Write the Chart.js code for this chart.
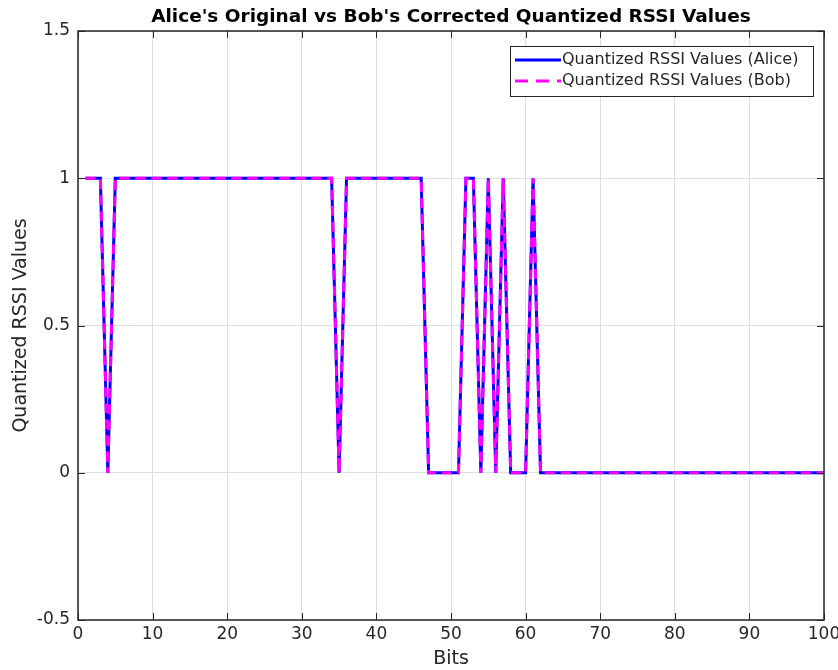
<!DOCTYPE html>
<html>
<head>
<meta charset="utf-8">
<script src="https://cdn.jsdelivr.net/npm/chart.js@4"></script>
<style>
  body { margin: 0; background: #fff; }
  #wrap { width: 838px; height: 670px; }
</style>
</head>
<body>
<div id="wrap"><canvas id="myChart"></canvas></div>
<script>
const ctx = document.getElementById("myChart");

const bits = [1, 2, 3, 4, 5, 6, 7, 8, 9, 10,
    11, 12, 13, 14, 15, 16, 17, 18, 19, 20,
    21, 22, 23, 24, 25, 26, 27, 28, 29, 30,
    31, 32, 33, 34, 35, 36, 37, 38, 39, 40,
    41, 42, 43, 44, 45, 46, 47, 48, 49, 50,
    51, 52, 53, 54, 55, 56, 57, 58, 59, 60,
    61, 62, 63, 64, 65, 66, 67, 68, 69, 70,
    71, 72, 73, 74, 75, 76, 77, 78, 79, 80,
    81, 82, 83, 84, 85, 86, 87, 88, 89, 90,
    91, 92, 93, 94, 95, 96, 97, 98, 99, 100];

const aliceValues = [1, 1, 1, 0, 1, 1, 1, 1, 1, 1,
    1, 1, 1, 1, 1, 1, 1, 1, 1, 1,
    1, 1, 1, 1, 1, 1, 1, 1, 1, 1,
    1, 1, 1, 1, 0, 1, 1, 1, 1, 1,
    1, 1, 1, 1, 1, 1, 0, 0, 0, 0,
    0, 1, 1, 0, 1, 0, 1, 0, 0, 0,
    1, 0, 0, 0, 0, 0, 0, 0, 0, 0,
    0, 0, 0, 0, 0, 0, 0, 0, 0, 0,
    0, 0, 0, 0, 0, 0, 0, 0, 0, 0,
    0, 0, 0, 0, 0, 0, 0, 0, 0, 0];

const bobValues = [1, 1, 1, 0, 1, 1, 1, 1, 1, 1,
    1, 1, 1, 1, 1, 1, 1, 1, 1, 1,
    1, 1, 1, 1, 1, 1, 1, 1, 1, 1,
    1, 1, 1, 1, 0, 1, 1, 1, 1, 1,
    1, 1, 1, 1, 1, 1, 0, 0, 0, 0,
    0, 1, 1, 0, 1, 0, 1, 0, 0, 0,
    1, 0, 0, 0, 0, 0, 0, 0, 0, 0,
    0, 0, 0, 0, 0, 0, 0, 0, 0, 0,
    0, 0, 0, 0, 0, 0, 0, 0, 0, 0,
    0, 0, 0, 0, 0, 0, 0, 0, 0, 0];

const xTicks = [0, 10, 20, 30, 40, 50, 60, 70, 80, 90, 100];
const yTicks = [-0.5, 0, 0.5, 1, 1.5];

const titleText = "Alice's Original vs Bob's Corrected Quantized RSSI Values";
const aliceLabel = 'Quantized RSSI Values (Alice)';
const bobLabel = 'Quantized RSSI Values (Bob)';

const FONT = "'DejaVu Sans', sans-serif";
const blue = '#0000ff';
const magenta = '#ff00ff';
const dash = [10, 6];

const toPoints = (ys) => bits.map((b, i) => ({x: b, y: ys[i]}));

/*box round the axes, inward ticks, title over the axes and the boxed legend, matlab style*/
const matlabBox = {
    id: 'matlabBox',
    afterDatasetsDraw(chart) {
        const c = chart.ctx;
        const a = chart.chartArea;
        const xs = chart.scales.x;
        const ys = chart.scales.y;
        c.save();
        c.strokeStyle = '#262626';
        c.lineWidth = 1;
        c.beginPath();
        xTicks.forEach(t => {
            const px = Math.round(xs.getPixelForValue(t)) + 0.5;
            c.moveTo(px, a.bottom); c.lineTo(px, a.bottom - 7);
            c.moveTo(px, a.top); c.lineTo(px, a.top + 7);
        });
        yTicks.forEach(t => {
            const py = Math.round(ys.getPixelForValue(t)) + 0.5;
            c.moveTo(a.left, py); c.lineTo(a.left + 7, py);
            c.moveTo(a.right, py); c.lineTo(a.right - 7, py);
        });
        c.stroke();
        c.lineWidth = 1.5;
        c.strokeRect(a.left, a.top, a.right - a.left, a.bottom - a.top);

        // title, centred on the axes
        c.fillStyle = '#000';
        c.font = 'bold 18.5px ' + FONT;
        c.textAlign = 'center';
        c.textBaseline = 'middle';
        c.fillText(titleText, (a.left + a.right) / 2, 17);

        // legend
        const lx = 510, ly = 46, lw = 303, lh = 50;
        c.fillStyle = '#fff';
        c.fillRect(lx, ly, lw, lh);
        c.lineWidth = 1;
        c.strokeStyle = '#262626';
        c.strokeRect(lx + 0.5, ly + 0.5, lw, lh);
        c.font = '16px ' + FONT;
        c.textAlign = 'left';
        c.fillStyle = '#262626';
        const items = [
            {label: aliceLabel, color: blue, d: []},
            {label: bobLabel, color: magenta, d: [13, 8]}
        ];
        items.forEach((it, i) => {
            const yy = ly + 14 + i * 21;
            c.strokeStyle = it.color;
            c.lineWidth = 3;
            c.setLineDash(it.d);
            c.beginPath();
            c.moveTo(lx + 5, yy); c.lineTo(lx + 51, yy);
            c.stroke();
            c.setLineDash([]);
            c.fillText(it.label, lx + 52, yy);
        });
        c.restore();
    }
};

var rssiChart = new Chart(ctx, {
    type: 'line',
    data: {
        datasets: [
            {
                label: aliceLabel,
                data: toPoints(aliceValues),
                borderColor: blue,
                borderWidth: 3,
                pointRadius: 0,
                tension: 0,
                order: 1
            },
            {
                label: bobLabel,
                data: toPoints(bobValues),
                borderColor: magenta,
                borderWidth: 3,
                borderDash: dash,
                pointRadius: 0,
                tension: 0,
                order: 0
            }
        ]
    },
    options: {
        responsive: true,
        maintainAspectRatio: false,
        animation: false,
        layout: {
            padding: {left: 0, right: 0, top: 31, bottom: 0}
        },
        scales: {
            x: {
                type: 'linear',
                min: 0,
                max: 100,
                afterBuildTicks: (s) => { s.ticks = xTicks.map(v => ({value: v})); },
                ticks: {
                    color: '#262626',
                    font: {family: FONT, size: 17},
                    padding: 4,
                    maxRotation: 0,
                    callback: (v) => String(v)
                },
                grid: {color: '#dedede', drawTicks: false},
                border: {display: false},
                title: {
                    display: true,
                    text: 'Bits',
                    color: '#262626',
                    font: {family: FONT, size: 19},
                    padding: {top: 1, bottom: 0}
                },
                afterFit: (s) => { s.height = 50; s.paddingRight = 14; s.paddingLeft = 0; }
            },
            y: {
                min: -0.5,
                max: 1.5,
                afterBuildTicks: (s) => { s.ticks = yTicks.map(v => ({value: v})); },
                ticks: {
                    color: '#262626',
                    font: {family: FONT, size: 17},
                    padding: 8,
                    callback: (v) => String(v)
                },
                grid: {color: '#dedede', drawTicks: false},
                border: {display: false},
                title: {
                    display: true,
                    text: 'Quantized RSSI Values',
                    color: '#262626',
                    font: {family: FONT, size: 19},
                    padding: {top: 10, bottom: 0}
                },
                afterFit: (s) => { s.width = 78; s.paddingTop = 0; s.paddingBottom = 0; }
            }
        },
        plugins: {
            legend: {display: false},
            tooltip: {enabled: false},
            title: {display: false}
        }
    },
    plugins: [matlabBox]
});
</script>
</body>
</html>
